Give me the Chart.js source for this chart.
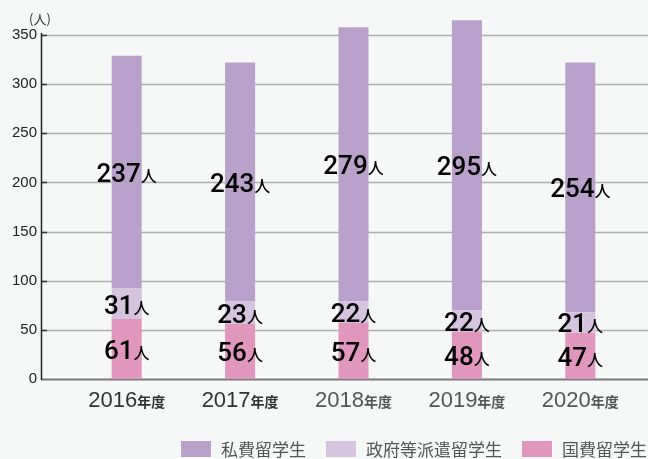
<!DOCTYPE html>
<html>
<head>
<meta charset="utf-8">
<script src="https://cdn.jsdelivr.net/npm/chart.js@4"></script>
<style>
  body { margin: 0; background: #f6f7f7; }
  #wrap { width: 648px; height: 459px; }
</style>
</head>
<body>
<div id="wrap"><canvas id="StudentChart"></canvas></div>
<script>
var years = ["2016", "2017", "2018", "2019", "2020"];
var yearSuffix = "年度";
var yearColors = ["#333333", "#333333", "#555555", "#555555", "#555555"];
var privateStudents = [237, 243, 279, 295, 254];
var governmentStudents = [31, 23, 22, 22, 21];
var nationalStudents = [61, 56, 57, 48, 47];
var unitLabel = "人";

const latin = "'Liberation Sans', Arial, sans-serif";
const numFont = "Roboto, 'Liberation Sans', sans-serif";
const cjk = "'Noto Sans CJK JP', sans-serif";

const data_Students = {
  labels: years,
  datasets: [
    { label: "国費留学生", data: nationalStudents, backgroundColor: "#e096bd" },
    { label: "政府等派遣留学生", data: governmentStudents, backgroundColor: "#d5c3e0" },
    { label: "私費留学生", data: privateStudents, backgroundColor: "#b9a1cb" },
  ],
};

// gridlines, axis, labels and legend drawn by hand
const decor_Students = {
  id: "decor",
  beforeDatasetsDraw(chart) {
    const ctx = chart.ctx;
    const y = chart.scales.y;
    ctx.save();
    y.ticks.forEach((t) => {
      const py = Math.round(y.getPixelForValue(t.value)) + 0.5;
      ctx.beginPath();
      if (t.value === 0) {
        ctx.strokeStyle = "#7a7a7a";
        ctx.lineWidth = 2;
      } else {
        ctx.strokeStyle = "#aeaeae";
        ctx.lineWidth = 1.3;
      }
      ctx.moveTo(41, py);
      ctx.lineTo(648, py);
      ctx.stroke();
      if (t.value !== 0) {
        ctx.beginPath();
        ctx.strokeStyle = "#333";
        ctx.lineWidth = 1.5;
        ctx.moveTo(41, py);
        ctx.lineTo(47, py);
        ctx.stroke();
      }
    });
    ctx.beginPath();
    ctx.strokeStyle = "#222";
    ctx.lineWidth = 1.5;
    ctx.moveTo(41.5, Math.round(y.getPixelForValue(350)) - 2);
    ctx.lineTo(41.5, Math.round(y.getPixelForValue(0)) + 1);
    ctx.stroke();

    ctx.fillStyle = "#333";
    ctx.font = "13px " + cjk;
    ctx.textAlign = "center";
    ctx.textBaseline = "middle";
    ctx.fillText("(人)", 40, 19);
    ctx.restore();
  },
  afterDatasetsDraw(chart) {
    const ctx = chart.ctx;
    ctx.save();
    ctx.textBaseline = "alphabetic";
    ctx.textAlign = "left";
    chart.data.datasets.forEach((ds, i) => {
      chart.getDatasetMeta(i).data.forEach((bar, j) => {
        const num = String(ds.data[j]);
        const cy = (bar.y + bar.base) / 2;
        ctx.font = "500 26px " + numFont;
        const wNum = ctx.measureText(num).width;
        ctx.font = "500 16px " + cjk;
        const wUnit = ctx.measureText(unitLabel).width;
        const x0 = bar.x - (wNum + wUnit) / 2;
        ctx.fillStyle = "#000";
        ctx.font = "500 26px " + numFont;
        ctx.fillText(num, x0, cy + 10);
        ctx.font = "500 16px " + cjk;
        ctx.fillText(unitLabel, x0 + wNum, cy + 10);
      });
    });

    // category labels
    const x = chart.scales.x;
    years.forEach((yr, j) => {
      const cx = x.getPixelForValue(j);
      ctx.font = "22px " + latin;
      const w1 = ctx.measureText(yr).width;
      ctx.font = "bold 14px " + cjk;
      const w2 = ctx.measureText(yearSuffix).width;
      const x0 = cx - (w1 + w2) / 2;
      ctx.fillStyle = yearColors[j];
      ctx.font = "22px " + latin;
      ctx.fillText(yr, x0, 407);
      ctx.font = "bold 14px " + cjk;
      ctx.fillText(yearSuffix, x0 + w1, 407);
    });

    // legend
    const items = chart.data.datasets.slice().reverse();
    ctx.font = "17px " + cjk;
    let total = 0;
    items.forEach((it, k) => {
      total += 30 + 10 + ctx.measureText(it.label).width + (k ? 20 : 0);
    });
    let lx = 647 - total;
    ctx.textBaseline = "middle";
    items.forEach((it) => {
      ctx.fillStyle = it.backgroundColor;
      ctx.fillRect(lx, 441, 30, 16);
      ctx.fillStyle = "#555";
      ctx.fillText(it.label, lx + 40, 449.5);
      lx += 40 + ctx.measureText(it.label).width + 20;
    });
    ctx.restore();
  },
};

const config_Students = {
  type: "bar",
  data: data_Students,
  options: {
    responsive: true,
    maintainAspectRatio: false,
    animation: false,
    devicePixelRatio: 1,
    layout: { padding: { top: 10.43, right: 11, bottom: 80, left: 0 } },
    datasets: {
      bar: { barPercentage: 0.265, categoryPercentage: 1 },
    },
    scales: {
      x: { stacked: true, display: false },
      y: {
        stacked: true,
        min: 0,
        max: 375,
        afterFit: (s) => {
          s.width = 70;
          s.paddingTop = 0;
          s.paddingBottom = 0;
        },
        afterBuildTicks: (s) => {
          s.ticks = s.ticks.filter((t) => t.value % 50 === 0);
        },
        ticks: {
          stepSize: 50,
          padding: 33,
          color: "#222",
          font: { family: latin, size: 15 },
        },
        grid: { display: false, drawTicks: false, tickLength: 0 },
        border: { display: false },
      },
    },
    plugins: {
      legend: { display: false },
      tooltip: { enabled: false },
    },
  },
  plugins: [decor_Students],
};

const StudentChart = new Chart(document.getElementById("StudentChart"), config_Students);
</script>
</body>
</html>
